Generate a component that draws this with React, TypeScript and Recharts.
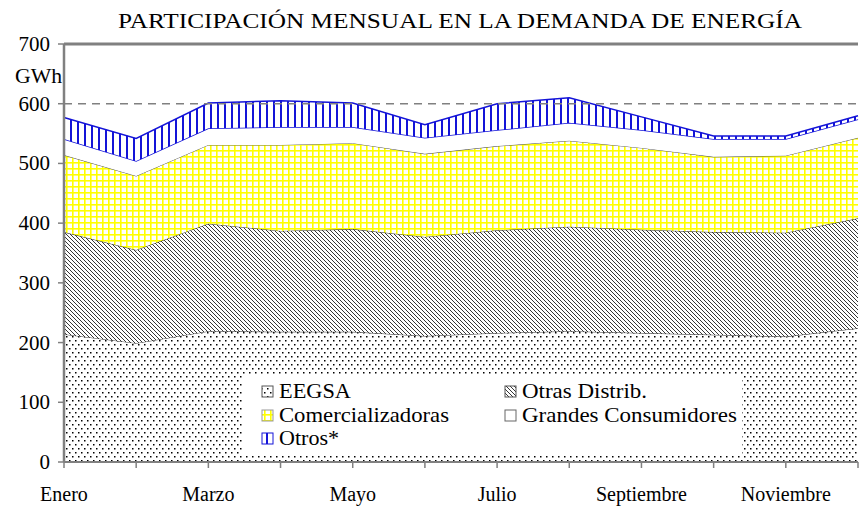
import React from 'react';
import { AreaChart, Area, XAxis, YAxis, ReferenceLine } from 'recharts';

const months = ['Enero', 'Febrero', 'Marzo', 'Abril', 'Mayo', 'Junio', 'Julio', 'Agosto', 'Septiembre', 'Octubre', 'Noviembre', 'Diciembre'];
const eegsa = [214, 199, 219, 218, 218, 211, 216, 219, 216, 213, 210, 224];
const otrasDistrib = [171, 156, 180, 169, 172, 166, 172, 175, 173, 172, 174, 184];
const comercializadoras = [129, 124, 132, 144, 144, 139, 141, 144, 137, 126, 129, 135];
const grandesConsumidores = [27, 25, 28, 30, 27, 27, 27, 30, 30, 30, 28, 31];
const otros = [36, 38, 42, 44, 40, 22, 44, 42, 22, 5, 5, 6];
const yTicks = [0, 100, 200, 300, 400, 500, 600, 700];

const title = 'PARTICIPACIÓN MENSUAL EN LA DEMANDA DE ENERGÍA';
const unitLabel = 'GWh';

const data = months.map((m, i) => ({
  month: m,
  eegsa: eegsa[i],
  otras: otrasDistrib[i],
  comer: comercializadoras[i],
  grandes: grandesConsumidores[i],
  otros: otros[i],
}));

const FONT = 'Liberation Serif';
const BLUE = '#1414d8';
const GRAY = '#808080';

const Patterns = ({ p }: { p: string }) => (
  <defs>
    <pattern id={p + 'dots'} width={6} height={8} patternUnits="userSpaceOnUse">
      <rect width={6} height={8} fill="#fff" />
      <rect x={0} y={0} width={1.5} height={1.5} fill="#000" />
      <rect x={3} y={4} width={1.5} height={1.5} fill="#000" />
    </pattern>
    <pattern id={p + 'diag'} width={4} height={4} patternUnits="userSpaceOnUse">
      <rect width={4} height={4} fill="#fff" />
      <path d="M0,0 L4,4 M-1,3 L1,5 M3,-1 L5,1" stroke="#111" strokeWidth={0.85} />
    </pattern>
    <pattern id={p + 'grid'} width={6} height={6} patternUnits="userSpaceOnUse">
      <rect width={6} height={6} fill="#fff" />
      <rect x={0} y={0} width={6} height={1.6} fill="#ffff00" />
      <rect x={0} y={0} width={1.6} height={6} fill="#ffff00" />
    </pattern>
    <pattern id={p + 'vert'} width={7} height={7} patternUnits="userSpaceOnUse">
      <rect width={7} height={7} fill="#fff" />
      <rect x={0} y={0} width={2} height={7} fill={BLUE} />
    </pattern>
  </defs>
);

const XTick = (props: any) => {
  const { x, y, payload, index } = props;
  if (index % 2 !== 0) return <g />;
  return (
    <text x={x} y={y + 31} textAnchor="middle" style={{ fontFamily: FONT }} fontFamily={FONT} fontSize={20} fill="#000">
      {payload.value}
    </text>
  );
};

const YTick = (props: any) => {
  const { x, y, payload } = props;
  return (
    <text x={x} y={y + 7} textAnchor="end" style={{ fontFamily: FONT }} fontFamily={FONT} fontSize={21} fill="#000">
      {payload.value}
    </text>
  );
};

const legendItems = [
  { label: 'EEGSA', fill: 'dots', x: 262, y: 398, w: 72, stroke: '#555' },
  { label: 'Otras Distrib.', fill: 'diag', x: 505, y: 398, w: 125, stroke: '#555' },
  { label: 'Comercializadoras', fill: 'grid', x: 262, y: 422, w: 170, stroke: '#999' },
  { label: 'Grandes Consumidores', fill: 'white', x: 505, y: 422, w: 215, stroke: '#666' },
  { label: 'Otros*', fill: 'vert', x: 262, y: 445, w: 60, stroke: BLUE },
];

export default function App() {
  return (
    <div style={{ position: 'absolute', left: 0, top: 0, width: 860, height: 506, background: '#fff', fontFamily: FONT }}>
      <AreaChart width={860} height={506} data={data} margin={{ top: 44, right: 2, left: 0, bottom: 0 }}>
        <Patterns p="c" />
        <XAxis
          dataKey="month"
          interval={0}
          height={44}
          axisLine={{ stroke: GRAY, strokeWidth: 2 }}
          tickLine={{ stroke: GRAY, strokeWidth: 1.5 }}
          tickSize={6}
          tick={<XTick />}
        />
        <YAxis
          domain={[0, 700]}
          ticks={yTicks}
          width={64}
          axisLine={{ stroke: GRAY, strokeWidth: 2.5 }}
          tickLine={{ stroke: GRAY, strokeWidth: 1.5 }}
          tickSize={6}
          tickMargin={8}
          tick={<YTick />}
        />
        <Area type="linear" dataKey="eegsa" stackId="1" fill="url(#cdots)" fillOpacity={1} stroke="#333" strokeWidth={1} isAnimationActive={false} />
        <Area type="linear" dataKey="otras" stackId="1" fill="url(#cdiag)" fillOpacity={1} stroke="#333" strokeWidth={1} isAnimationActive={false} />
        <Area type="linear" dataKey="comer" stackId="1" fill="url(#cgrid)" fillOpacity={1} stroke="#555" strokeWidth={1} isAnimationActive={false} />
        <Area type="linear" dataKey="grandes" stackId="1" fill="#fff" fillOpacity={1} stroke={BLUE} strokeWidth={1.5} isAnimationActive={false} />
        <Area type="linear" dataKey="otros" stackId="1" fill="url(#cvert)" fillOpacity={1} stroke={BLUE} strokeWidth={1.5} isAnimationActive={false} />
        <ReferenceLine y={600} stroke={GRAY} strokeWidth={1.5} strokeDasharray="8 6" />
        <ReferenceLine y={700} stroke={GRAY} strokeWidth={3} />
      </AreaChart>
      <svg width={860} height={506} style={{ position: 'absolute', left: 0, top: 0, pointerEvents: 'none', fontFamily: FONT }}>
        <Patterns p="l" />
        <text x={460} y={28} textAnchor="middle" fontFamily={FONT} fontSize={22} fill="#000" textLength={684} lengthAdjust="spacingAndGlyphs">
          {title}
        </text>
        <text x={15} y={83} fontFamily={FONT} fontSize={21} fill="#000" textLength={47} lengthAdjust="spacingAndGlyphs">
          {unitLabel}
        </text>
        <rect x={243} y={376} width={499} height={80} fill="#fff" />
        {legendItems.map((it) => (
          <g key={it.label}>
            <rect
              x={it.x}
              y={it.y - 12}
              width={11}
              height={11}
              fill={it.fill === 'white' ? '#fff' : `url(#l${it.fill})`}
              stroke={it.stroke}
              strokeWidth={1}
            />
            <text x={it.x + 17} y={it.y} fontFamily={FONT} fontSize={21} fill="#000" textLength={it.w} lengthAdjust="spacingAndGlyphs">
              {it.label}
            </text>
          </g>
        ))}
      </svg>
    </div>
  );
}
